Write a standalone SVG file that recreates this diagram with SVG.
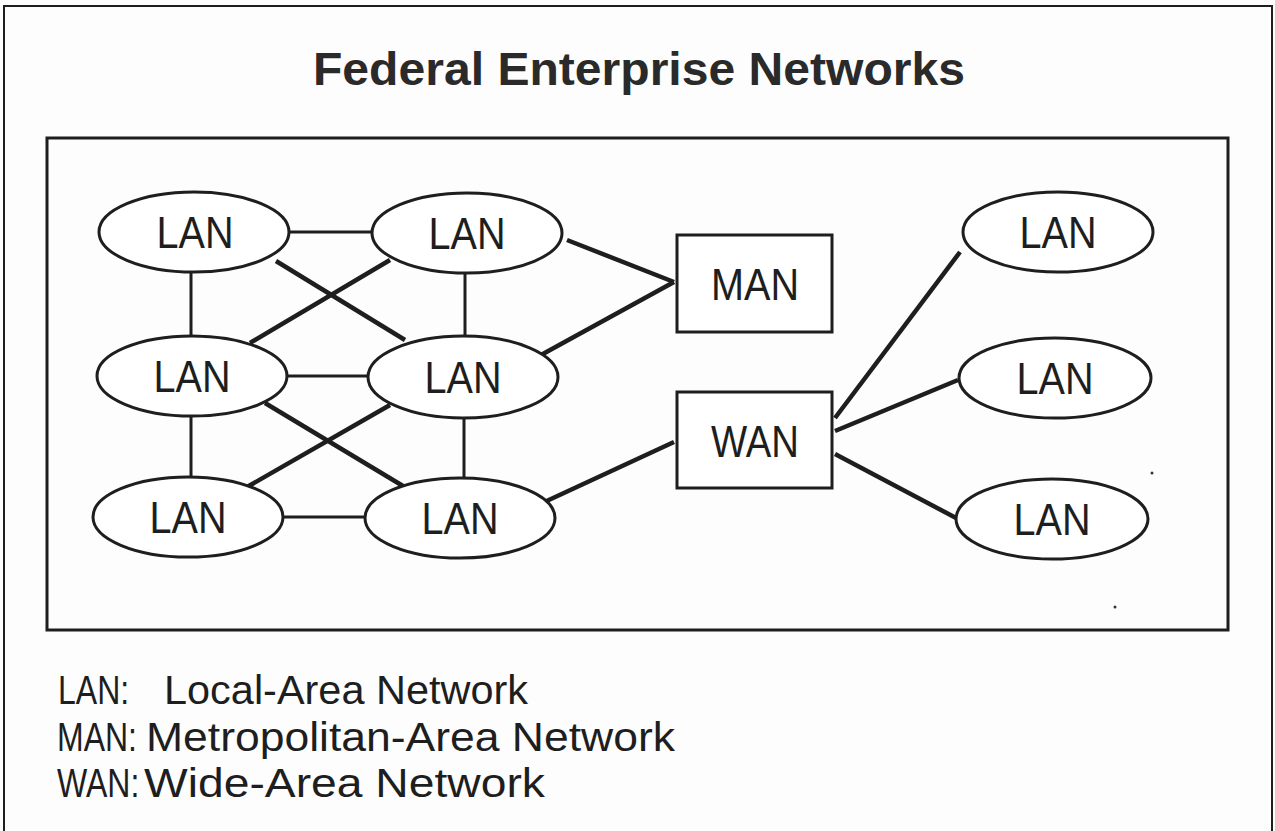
<svg xmlns="http://www.w3.org/2000/svg" width="1275" height="831" viewBox="0 0 1275 831">
<style>
.frame{fill:none;stroke:#1e1e1e}
.node{fill:#fff;stroke:#1e1e1e;stroke-width:3}
.lbl{font-family:"Liberation Sans",Arial,Helvetica,sans-serif;font-size:45px;fill:#1e1e1e;text-anchor:middle}
.thin{stroke:#1e1e1e;stroke-width:3;fill:none}
.thick{stroke:#1e1e1e;stroke-width:4.5;fill:none}
.leg{font-family:"Liberation Sans",Arial,Helvetica,sans-serif;font-size:40px;fill:#1e1e1e}
.title{font-family:"Liberation Sans",Arial,Helvetica,sans-serif;font-size:46px;font-weight:bold;fill:#2a2a2a;text-anchor:middle}
</style>
<rect x="0" y="0" width="1275" height="831" fill="#fdfdfd"/>
<rect class="frame" x="4" y="6" width="1268" height="835" stroke-width="2"/>
<text class="title" x="639" y="85" textLength="652" lengthAdjust="spacingAndGlyphs">Federal Enterprise Networks</text>
<rect class="frame" x="47" y="138" width="1181" height="492" stroke-width="3"/>
<g id="connectors">
<line class="thin" x1="290" y1="232" x2="372" y2="232"/>
<line class="thin" x1="191" y1="272" x2="191" y2="337"/>
<line class="thin" x1="465" y1="273" x2="465" y2="336"/>
<line class="thin" x1="287" y1="376" x2="368" y2="376"/>
<line class="thin" x1="191" y1="416" x2="191" y2="478"/>
<line class="thin" x1="464" y1="418" x2="464" y2="478"/>
<line class="thin" x1="282" y1="517" x2="364" y2="517"/>
<line class="thick" x1="276" y1="261" x2="405" y2="340"/>
<line class="thick" x1="390" y1="260" x2="250" y2="343"/>
<line class="thick" x1="265" y1="403" x2="403" y2="486"/>
<line class="thick" x1="390" y1="405" x2="247" y2="487"/>
<line class="thick" x1="567" y1="240" x2="674" y2="282"/>
<line class="thick" x1="541" y1="355" x2="674" y2="282"/>
<line class="thick" x1="538" y1="505" x2="674" y2="442"/>
<line class="thick" x1="835" y1="418" x2="960" y2="252"/>
<line class="thick" x1="835" y1="431" x2="958" y2="380"/>
<line class="thick" x1="835" y1="454" x2="958" y2="519"/>
</g>
<g id="lan1"><ellipse class="node" cx="194" cy="232" rx="95" ry="40"/><text class="lbl" x="195" y="248" textLength="77" lengthAdjust="spacingAndGlyphs">LAN</text></g>
<g id="lan2"><ellipse class="node" cx="467" cy="233" rx="95" ry="40"/><text class="lbl" x="467" y="249" textLength="77" lengthAdjust="spacingAndGlyphs">LAN</text></g>
<g id="lan3"><ellipse class="node" cx="192" cy="376" rx="95" ry="40"/><text class="lbl" x="192" y="392" textLength="77" lengthAdjust="spacingAndGlyphs">LAN</text></g>
<g id="lan4"><ellipse class="node" cx="463" cy="377" rx="95" ry="41"/><text class="lbl" x="463" y="393" textLength="77" lengthAdjust="spacingAndGlyphs">LAN</text></g>
<g id="lan5"><ellipse class="node" cx="188" cy="517" rx="95" ry="40"/><text class="lbl" x="188" y="533" textLength="77" lengthAdjust="spacingAndGlyphs">LAN</text></g>
<g id="lan6"><ellipse class="node" cx="460" cy="518" rx="95" ry="40"/><text class="lbl" x="460" y="534" textLength="77" lengthAdjust="spacingAndGlyphs">LAN</text></g>
<g id="man"><rect class="node" x="677" y="235" width="155" height="97"/><text class="lbl" x="755" y="300" textLength="88" lengthAdjust="spacingAndGlyphs">MAN</text></g>
<g id="wan"><rect class="node" x="677" y="392" width="155" height="96"/><text class="lbl" x="755" y="457" textLength="88" lengthAdjust="spacingAndGlyphs">WAN</text></g>
<g id="lan7"><ellipse class="node" cx="1058" cy="232" rx="95" ry="40"/><text class="lbl" x="1058" y="248" textLength="77" lengthAdjust="spacingAndGlyphs">LAN</text></g>
<g id="lan8"><ellipse class="node" cx="1055" cy="378" rx="96" ry="40"/><text class="lbl" x="1055" y="394" textLength="77" lengthAdjust="spacingAndGlyphs">LAN</text></g>
<g id="lan9"><ellipse class="node" cx="1052" cy="519" rx="96" ry="40"/><text class="lbl" x="1052" y="535" textLength="77" lengthAdjust="spacingAndGlyphs">LAN</text></g>
<circle cx="1152" cy="473" r="1.5" fill="#333"/>
<circle cx="1115" cy="607" r="1.5" fill="#333"/>
<g id="legend">
<text class="leg" transform="translate(58,704) scale(0.8,1)">LAN:</text>
<text class="leg" x="164" y="704" textLength="364" lengthAdjust="spacingAndGlyphs">Local-Area Network</text>
<text class="leg" transform="translate(57,751) scale(0.8,1)">MAN:</text>
<text class="leg" x="146" y="751" textLength="529" lengthAdjust="spacingAndGlyphs">Metropolitan-Area Network</text>
<text class="leg" transform="translate(57,797) scale(0.8,1)">WAN:</text>
<text class="leg" x="144" y="797" textLength="401" lengthAdjust="spacingAndGlyphs">Wide-Area Network</text>
</g>
</svg>
